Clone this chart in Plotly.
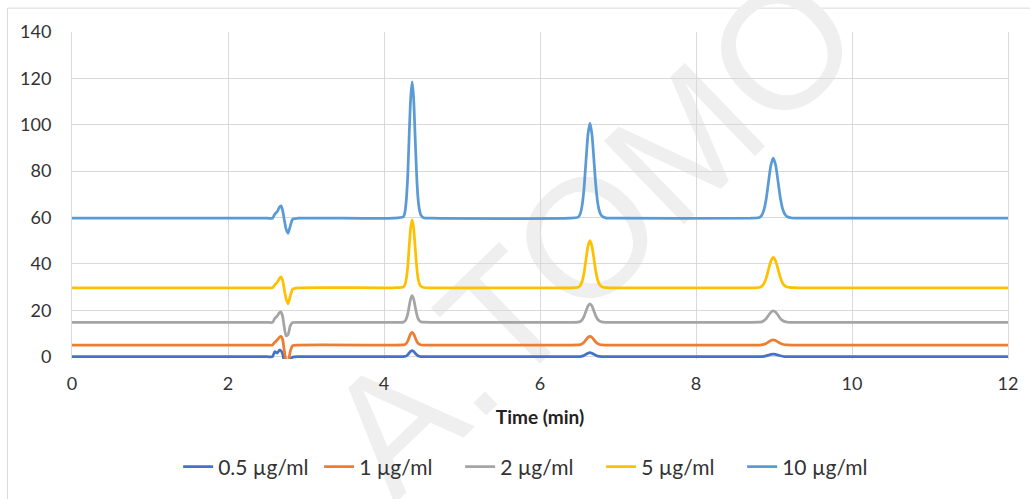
import plotly.graph_objects as go

# Retention time axis (min): start, solvent-front disturbance, three analyte peaks, end
time_min = [
    0.0,
    2.50, 2.57, 2.60, 2.63, 2.66, 2.68, 2.70, 2.72, 2.745, 2.77, 2.80, 2.83, 2.90,
    4.12, 4.249, 4.268, 4.286, 4.305, 4.323, 4.342, 4.36, 4.379, 4.397, 4.416, 4.434, 4.453, 4.471, 4.508, 4.62,
    6.38, 6.49, 6.515, 6.54, 6.565, 6.59, 6.615, 6.64, 6.665, 6.69, 6.715, 6.74, 6.765, 6.79, 6.84, 6.95,
    8.70, 8.81, 8.84, 8.87, 8.90, 8.93, 8.96, 8.99, 9.02, 9.05, 9.08, 9.11, 9.14, 9.17, 9.23, 9.36,
    12.0,
]

series_names = ["0.5 µg/ml", "1 µg/ml", "2 µg/ml", "5 µg/ml", "10 µg/ml"]
series_colors = ["#4472C4", "#ED7D31", "#A5A5A5", "#FFC000", "#5B9BD5"]

# Detector response (offset traces) for each concentration
signal_05 = [
    0.0,
    0.0, 0.0, 2.2, 1.5, 2.8, 2.5, 1.2, -2.0, -5.0, -5.0, -1.0, -0.2, 0.0,
    0.0, 0.03, 0.11, 0.35, 0.83, 1.59, 2.29, 2.6, 2.31, 1.64, 0.91, 0.42, 0.17, 0.07, 0.01, 0.0,
    0.0, 0.02, 0.07, 0.23, 0.54, 1.04, 1.5, 1.7, 1.51, 1.07, 0.6, 0.27, 0.11, 0.04, 0.01, 0.0,
    0.0, 0.01, 0.05, 0.15, 0.35, 0.67, 0.97, 1.1, 0.98, 0.69, 0.39, 0.18, 0.07, 0.03, 0.0, 0.0,
    0.0,
]
signal_1 = [
    5.0,
    5.0, 5.0, 6.2, 7.2, 8.4, 8.8, 7.5, 3.0, -1.5, -2.0, 2.5, 4.8, 5.0,
    5.0, 5.06, 5.24, 5.74, 6.76, 8.36, 9.84, 10.5, 9.9, 8.47, 6.93, 5.88, 5.36, 5.14, 5.02, 5.0,
    5.0, 5.04, 5.17, 5.51, 6.22, 7.32, 8.34, 8.8, 8.38, 7.39, 6.33, 5.61, 5.25, 5.1, 5.02, 5.0,
    5.0, 5.02, 5.1, 5.3, 5.7, 6.34, 6.94, 7.2, 6.96, 6.39, 5.77, 5.35, 5.14, 5.06, 5.01, 5.0,
    5.0,
]
signal_2 = [
    14.8,
    14.8, 14.8, 16.5, 17.5, 19.0, 19.3, 17.5, 13.0, 9.0, 9.5, 13.5, 14.7, 14.8,
    14.8, 14.93, 15.31, 16.35, 18.48, 21.82, 24.92, 26.3, 25.04, 22.05, 18.83, 16.64, 15.55, 15.09, 14.85, 14.8,
    14.8, 14.89, 15.15, 15.88, 17.36, 19.68, 21.84, 22.8, 21.92, 19.84, 17.6, 16.08, 15.32, 15.0, 14.83, 14.8,
    14.8, 14.86, 15.02, 15.48, 16.4, 17.85, 19.2, 19.8, 19.25, 17.95, 16.55, 15.6, 15.13, 14.93, 14.82, 14.8,
    14.8,
]
signal_5 = [
    29.7,
    29.7, 29.7, 31.0, 32.0, 33.8, 34.4, 33.0, 29.3, 25.0, 22.8, 26.3, 29.2, 29.7,
    29.7, 30.02, 30.99, 33.66, 39.08, 47.57, 55.48, 59.0, 55.78, 48.16, 39.96, 34.39, 31.6, 30.43, 29.82, 29.7,
    29.7, 29.92, 30.59, 32.44, 36.2, 42.08, 47.56, 50.0, 47.77, 42.49, 36.81, 32.95, 31.02, 30.21, 29.78, 29.7,
    29.7, 29.84, 30.28, 31.47, 33.89, 37.69, 41.23, 42.8, 41.36, 37.95, 34.29, 31.8, 30.55, 30.03, 29.75, 29.7,
    29.7,
]
signal_10 = [
    59.7,
    59.7, 59.7, 61.5, 62.5, 64.5, 65.0, 63.2, 59.3, 55.0, 53.2, 56.5, 59.3, 59.7,
    59.7, 60.35, 62.29, 67.64, 78.52, 95.57, 111.44, 118.5, 112.03, 96.74, 80.28, 69.11, 63.52, 61.17, 59.94, 59.7,
    59.7, 60.15, 61.5, 65.24, 72.82, 84.71, 95.78, 100.7, 96.19, 85.53, 74.05, 66.26, 62.37, 60.73, 59.86, 59.7,
    59.7, 59.98, 60.84, 63.2, 67.99, 75.5, 82.49, 85.6, 82.75, 76.02, 68.77, 63.84, 61.38, 60.35, 59.8, 59.7,
    59.7,
]

x_ticks = [0, 2, 4, 6, 8, 10, 12]
y_ticks = [0, 20, 40, 60, 80, 100, 120, 140]
x_title = "Time (min)"
watermark = "A.TOMO"

grid_color = "#D9D9D9"
text_color = "#333333"
base_font = "Lato, 'Open Sans', sans-serif"

fig = go.Figure()
for name, values, color in zip(
    series_names,
    [signal_05, signal_1, signal_2, signal_5, signal_10],
    series_colors,
):
    fig.add_trace(
        go.Scatter(
            x=time_min,
            y=values,
            mode="lines",
            name=name,
            line=dict(color=color, width=2.75, shape="spline", smoothing=0.6),
            hoverinfo="skip",
        )
    )

fig.update_layout(
    width=1030,
    height=499,
    margin=dict(l=72, r=22, t=32, b=140),
    paper_bgcolor="white",
    plot_bgcolor="white",
    font=dict(family=base_font, size=18, color=text_color),
    showlegend=True,
    legend=dict(
        orientation="h",
        x=0.49,
        xanchor="center",
        y=-0.33,
        yanchor="middle",
        font=dict(size=21, color=text_color),
        itemwidth=30,
        entrywidth=96,
        bgcolor="rgba(0,0,0,0)",
    ),
    xaxis=dict(
        range=[0, 12],
        tickvals=x_ticks,
        showgrid=True,
        gridcolor=grid_color,
        gridwidth=1,
        zeroline=False,
        showline=False,
        ticks="",
        ticklabelstandoff=12,
        title=dict(
            text="<b>" + x_title + "</b>",
            font=dict(size=19, color="#222222"),
            standoff=17,
        ),
    ),
    yaxis=dict(
        range=[-1, 140],
        tickvals=y_ticks,
        showgrid=True,
        gridcolor=grid_color,
        gridwidth=1,
        zeroline=False,
        showline=True,
        linecolor=grid_color,
        linewidth=1,
        mirror=True,
        ticks="",
        ticklabelstandoff=16,
    ),
    shapes=[
        # outer chart frame
        dict(
            type="rect",
            xref="paper",
            yref="paper",
            x0=-0.069,
            x1=1.2,
            y0=-1.0,
            y1=1.073,
            line=dict(color=grid_color, width=1),
            fillcolor="rgba(0,0,0,0)",
            layer="below",
        ),
        # diagonal watermark, behind the grid and traces
        dict(
            type="rect",
            xref="paper",
            yref="paper",
            x0=0.49,
            x1=0.596,
            y0=0.37,
            y1=0.47,
            line=dict(width=0),
            fillcolor="rgba(0,0,0,0)",
            layer="below",
            label=dict(
                text=watermark,
                font=dict(family="Liberation Sans, Arial, sans-serif", size=168, color="#EFEFEF"),
                textangle=-44,
                textposition="middle center",
            ),
        ),
    ],
)

fig.write_html("out.html", config={"displayModeBar": False})
